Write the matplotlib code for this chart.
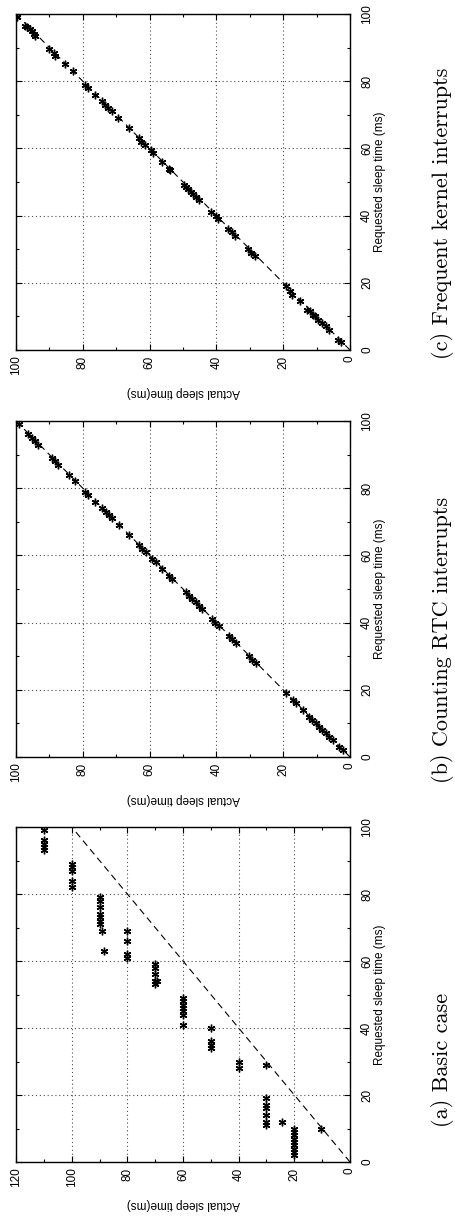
import matplotlib
matplotlib.use("Agg")
import matplotlib.pyplot as plt
from matplotlib.ticker import MultipleLocator

# --------------------------------------------------
# DATA (requested sleep time vs actual sleep time, ms)
# --------------------------------------------------
# (a) Basic case
basic_actual = [110, 110, 110, 110, 110,
                100, 100, 100, 100, 100,
                90, 90, 90, 90, 90, 90, 90, 89, 88.5,
                80, 80, 80, 80,
                70, 70, 70, 70, 70, 69.5,
                60, 60, 60, 60, 60, 60, 60,
                50, 50, 50, 50,
                40, 40,
                30, 30, 30, 30, 30, 30, 30, 24.5,
                20, 20, 20, 20, 20, 20, 20, 20, 20,
                10.5]
basic_requested = [99, 96, 95, 94, 93,
                   89, 88, 87, 84, 82,
                   79, 78, 76, 74, 73, 72, 71, 69, 63,
                   69, 66, 62, 61,
                   59, 58, 56, 54, 53, 54,
                   49, 48, 47, 46, 45, 44, 41,
                   40, 36, 35, 34,
                   30, 28,
                   29, 19, 17, 16, 14, 12, 11, 12,
                   10, 9, 8, 7, 6, 5, 4, 3, 2,
                   10]

# (b) Counting RTC interrupts
rtc_requested = [99, 96, 95, 94, 93, 89, 88, 87, 84, 82, 79, 78, 76, 74, 73,
                 72, 71, 69, 66, 63, 62, 61, 59, 58, 56, 54, 53, 49, 48, 47,
                 46, 45, 44, 41, 40, 39, 36, 35, 34, 30, 29, 28, 19, 17, 16,
                 14, 12, 11, 10, 9, 8, 7, 6, 5, 3, 2]
rtc_actual = [99.2, 96.3, 95.2, 94.2, 93.3, 89.2, 88.2, 87.3, 84.2, 82.2, 79.2,
              78.3, 76.2, 74.2, 73.2, 72.3, 71.2, 69.2, 66.2, 63.2, 62.3, 61.2,
              59.2, 58.2, 56.2, 54.2, 53.2, 49.2, 48.3, 47.2, 46.2, 45.3, 44.2,
              41.2, 40.3, 39.2, 36.2, 35.3, 34.2, 30.2, 29.3, 28.2, 19.2, 17.2,
              16.3, 14.2, 12.2, 11.3, 10.2, 9.2, 8.3, 7.2, 6.2, 5.2, 3.2, 2.2]

# (c) Frequent kernel interrupts
kern_requested = [99.2, 96.5, 96, 95.5, 95, 94, 93.5, 89.5, 88.5, 87.5, 85,
                  83, 79, 78, 76, 74, 73, 72, 71, 69, 66, 63, 62, 61, 59.5,
                  58.5, 56, 54, 53.5, 49, 48.5, 48, 47, 46.5, 45.5, 44.5, 41,
                  40, 39, 36, 35, 34, 30, 29, 28, 19, 17.5, 16.5, 14.5, 12,
                  11.5, 10.5, 10, 9, 8, 7, 6, 3, 2.5]
kern_actual = [99.8, 97.2, 96.6, 95.8, 95.3, 94.6, 94.2, 90.0, 88.6, 88.2,
               85.2, 83.0, 79.3, 78.4, 76.2, 74.4, 73.3, 72.5, 71.4, 69.6,
               66.2, 63.3, 62.5, 61.4, 59.6, 58.9, 56.2, 54.3, 54.0, 49.6,
               49.0, 48.5, 47.5, 47.0, 46.0, 45.1, 41.7, 40.2, 39.4, 36.4,
               35.4, 34.5, 30.4, 29.6, 28.5, 19.2, 17.9, 17.4, 15.0, 12.8,
               12.0, 11.2, 10.6, 9.5, 8.4, 7.3, 6.4, 3.5, 2.8]

captions = ["(a) Basic case", "(b) Counting RTC interrupts",
            "(c) Frequent kernel interrupts"]
x_limits = [120, 100, 100]

# --------------------------------------------------
# FIGURE (landscape page rotated 90 degrees)
# --------------------------------------------------
W, H = 456, 1218
fig = plt.figure(figsize=(W / 100, H / 100), dpi=100)

# axes boxes in pixels: (left, top, right, bottom)
boxes = [(16, 827, 350, 1162), (16, 421, 350, 757), (16, 14, 350, 350)]
caption_y = [1060, 640, 213]

datasets = [(basic_actual, basic_requested),
            (rtc_actual, rtc_requested),
            (kern_actual, kern_requested)]

tick_font = "Liberation Sans"

for (l, t, r, b), (act, req), cap, cy, xmax in zip(boxes, datasets, captions,
                                                   caption_y, x_limits):
    ax = fig.add_axes([l / W, 1 - b / H, (r - l) / W, (b - t) / H])

    ax.plot([0, 100], [0, 100], color="black", lw=0.8, dashes=(6, 4))
    ax.plot(act, req, linestyle="none", marker=(6, 2, 0), markersize=5.5,
            markeredgewidth=1.0, color="black")

    ax.set_xlim(xmax, 0)
    ax.set_ylim(0, 100)
    ax.xaxis.set_major_locator(MultipleLocator(20))
    ax.xaxis.set_minor_locator(MultipleLocator(10))
    ax.yaxis.set_major_locator(MultipleLocator(20))
    ax.yaxis.set_minor_locator(MultipleLocator(10))

    ax.grid(True, which="major", color="0.3", lw=0.8, linestyle=(0, (1, 2.5)))
    ax.tick_params(which="both", direction="in", top=True, right=True,
                   left=True, bottom=True, labelleft=False, labelright=True,
                   width=0.8, colors="black")
    ax.tick_params(which="major", length=4)
    ax.tick_params(which="minor", length=2.5)
    ax.tick_params(axis="x", labelrotation=90, pad=4, labelsize=8.5)
    ax.tick_params(axis="y", labelrotation=90, pad=8, labelsize=8.5)
    for lab in ax.get_xticklabels() + ax.get_yticklabels():
        lab.set_family(tick_font)
    for lab in ax.get_yticklabels():
        lab.set_verticalalignment("center")

    for sp in ax.spines.values():
        sp.set_linewidth(1.0)

    ax.set_xlabel("Actual sleep time(ms)", rotation=180, fontsize=8.5,
                  family=tick_font)
    ax.xaxis.set_label_coords(0.5, -0.108)
    ax.yaxis.set_label_position("right")
    ax.set_ylabel("Requested sleep time (ms)", rotation=90, fontsize=8.5,
                  family=tick_font)
    ax.yaxis.set_label_coords((374 - l) / (r - l), 0.5)

    fig.text(443 / W, 1 - cy / H, cap, rotation=90, ha="center", va="center",
             family="cmr10", fontsize=16)

plt.savefig("out.png", dpi=100)
